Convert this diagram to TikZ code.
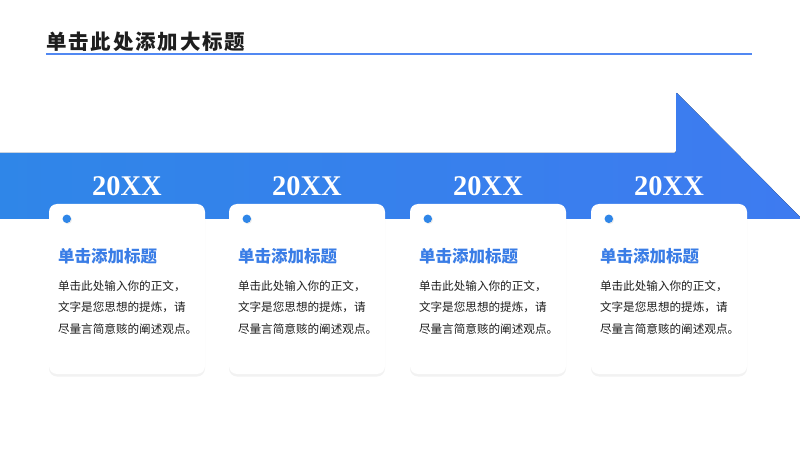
\documentclass[tikz,border=0pt]{standalone}
\usepackage{fontspec}
\setmainfont{Liberation Serif}
\newfontfamily\cjkfont{Noto Sans CJK SC}
\usepackage{tikz}
\usetikzlibrary{positioning,shadows}
\definecolor{tlblue}{HTML}{2F86E8}
\definecolor{tldeep}{HTML}{3E7BF0}
\definecolor{tltitle}{HTML}{3A7DE6}
\definecolor{tlink}{HTML}{1E1E1E}
\tikzset{
  heading/.style={font=\cjkfont\bfseries\fontsize{20.5}{24}\selectfont\addfontfeature{LetterSpace=9},
    text=tlink, inner sep=0pt},
  rulebar/.style={draw=tldeep!90, line width=2pt},
  arrowband/.style={left color=tlblue, right color=tldeep},
  yearlabel/.style={font=\bfseries\fontsize{28.5}{30}\selectfont, text=white, inner sep=0pt},
  card/.style={fill=white, rounded corners=8pt, minimum width=156pt, minimum height=170pt,
    inner sep=0pt, drop shadow={opacity=0.10, shadow xshift=0pt, shadow yshift=-2.5pt}},
  dot/.style={circle, fill=tlblue, minimum size=8.5pt, inner sep=0pt,
    drop shadow={opacity=0.15, shadow xshift=1pt, shadow yshift=-1pt}},
  cardtitle/.style={font=\cjkfont\bfseries\fontsize{16.5}{20}\selectfont, text=tltitle, inner sep=0pt},
  cardbody/.style={font=\cjkfont\fontsize{11.6}{21.5}\selectfont, text=tlink, inner sep=0pt,
    align=left, text width=150pt}
}
\begin{document}
\begin{tikzpicture}[x=1pt,y=1pt]
  \useasboundingbox (0,0) rectangle (800,450);
  \fill[white] (0,0) rectangle (800,450);

  % heading and rule
  \node[heading, anchor=west] (head) at (46,408) {单击此处添加大标题};
  \coordinate (ruleL) at (46,396);
  \coordinate (ruleR) at (752,396);
  \draw[rulebar] (ruleL) -- (ruleR);

  % arrow band
  \fill[arrowband, rounded corners=2pt] (-10,231) -- (-10,297) -- (676,297) -- (676,358)
    -- (802,231) -- cycle;

  % cards
  \foreach \i/\cx in {1/127,2/307,3/488,4/669}{
    \node[yearlabel] (year\i) at (\cx,264) {20XX};
    \node[card] (card\i) at (\cx,161) {};
    \node[dot] (dot\i) at ([xshift=18pt, yshift=-15pt]card\i.north west) {};
    \node[cardtitle, anchor=west] (ttl\i) at ([xshift=9pt, yshift=-52pt]card\i.north west) {单击添加标题};
    \node[cardbody, anchor=north west] (txt\i) at ([xshift=9pt, yshift=-76.5pt]card\i.north west)
      {单击此处输入你的正文，\\文字是您思想的提炼，请\\尽量言简意赅的阐述观点。};
  }
\end{tikzpicture}
\end{document}
